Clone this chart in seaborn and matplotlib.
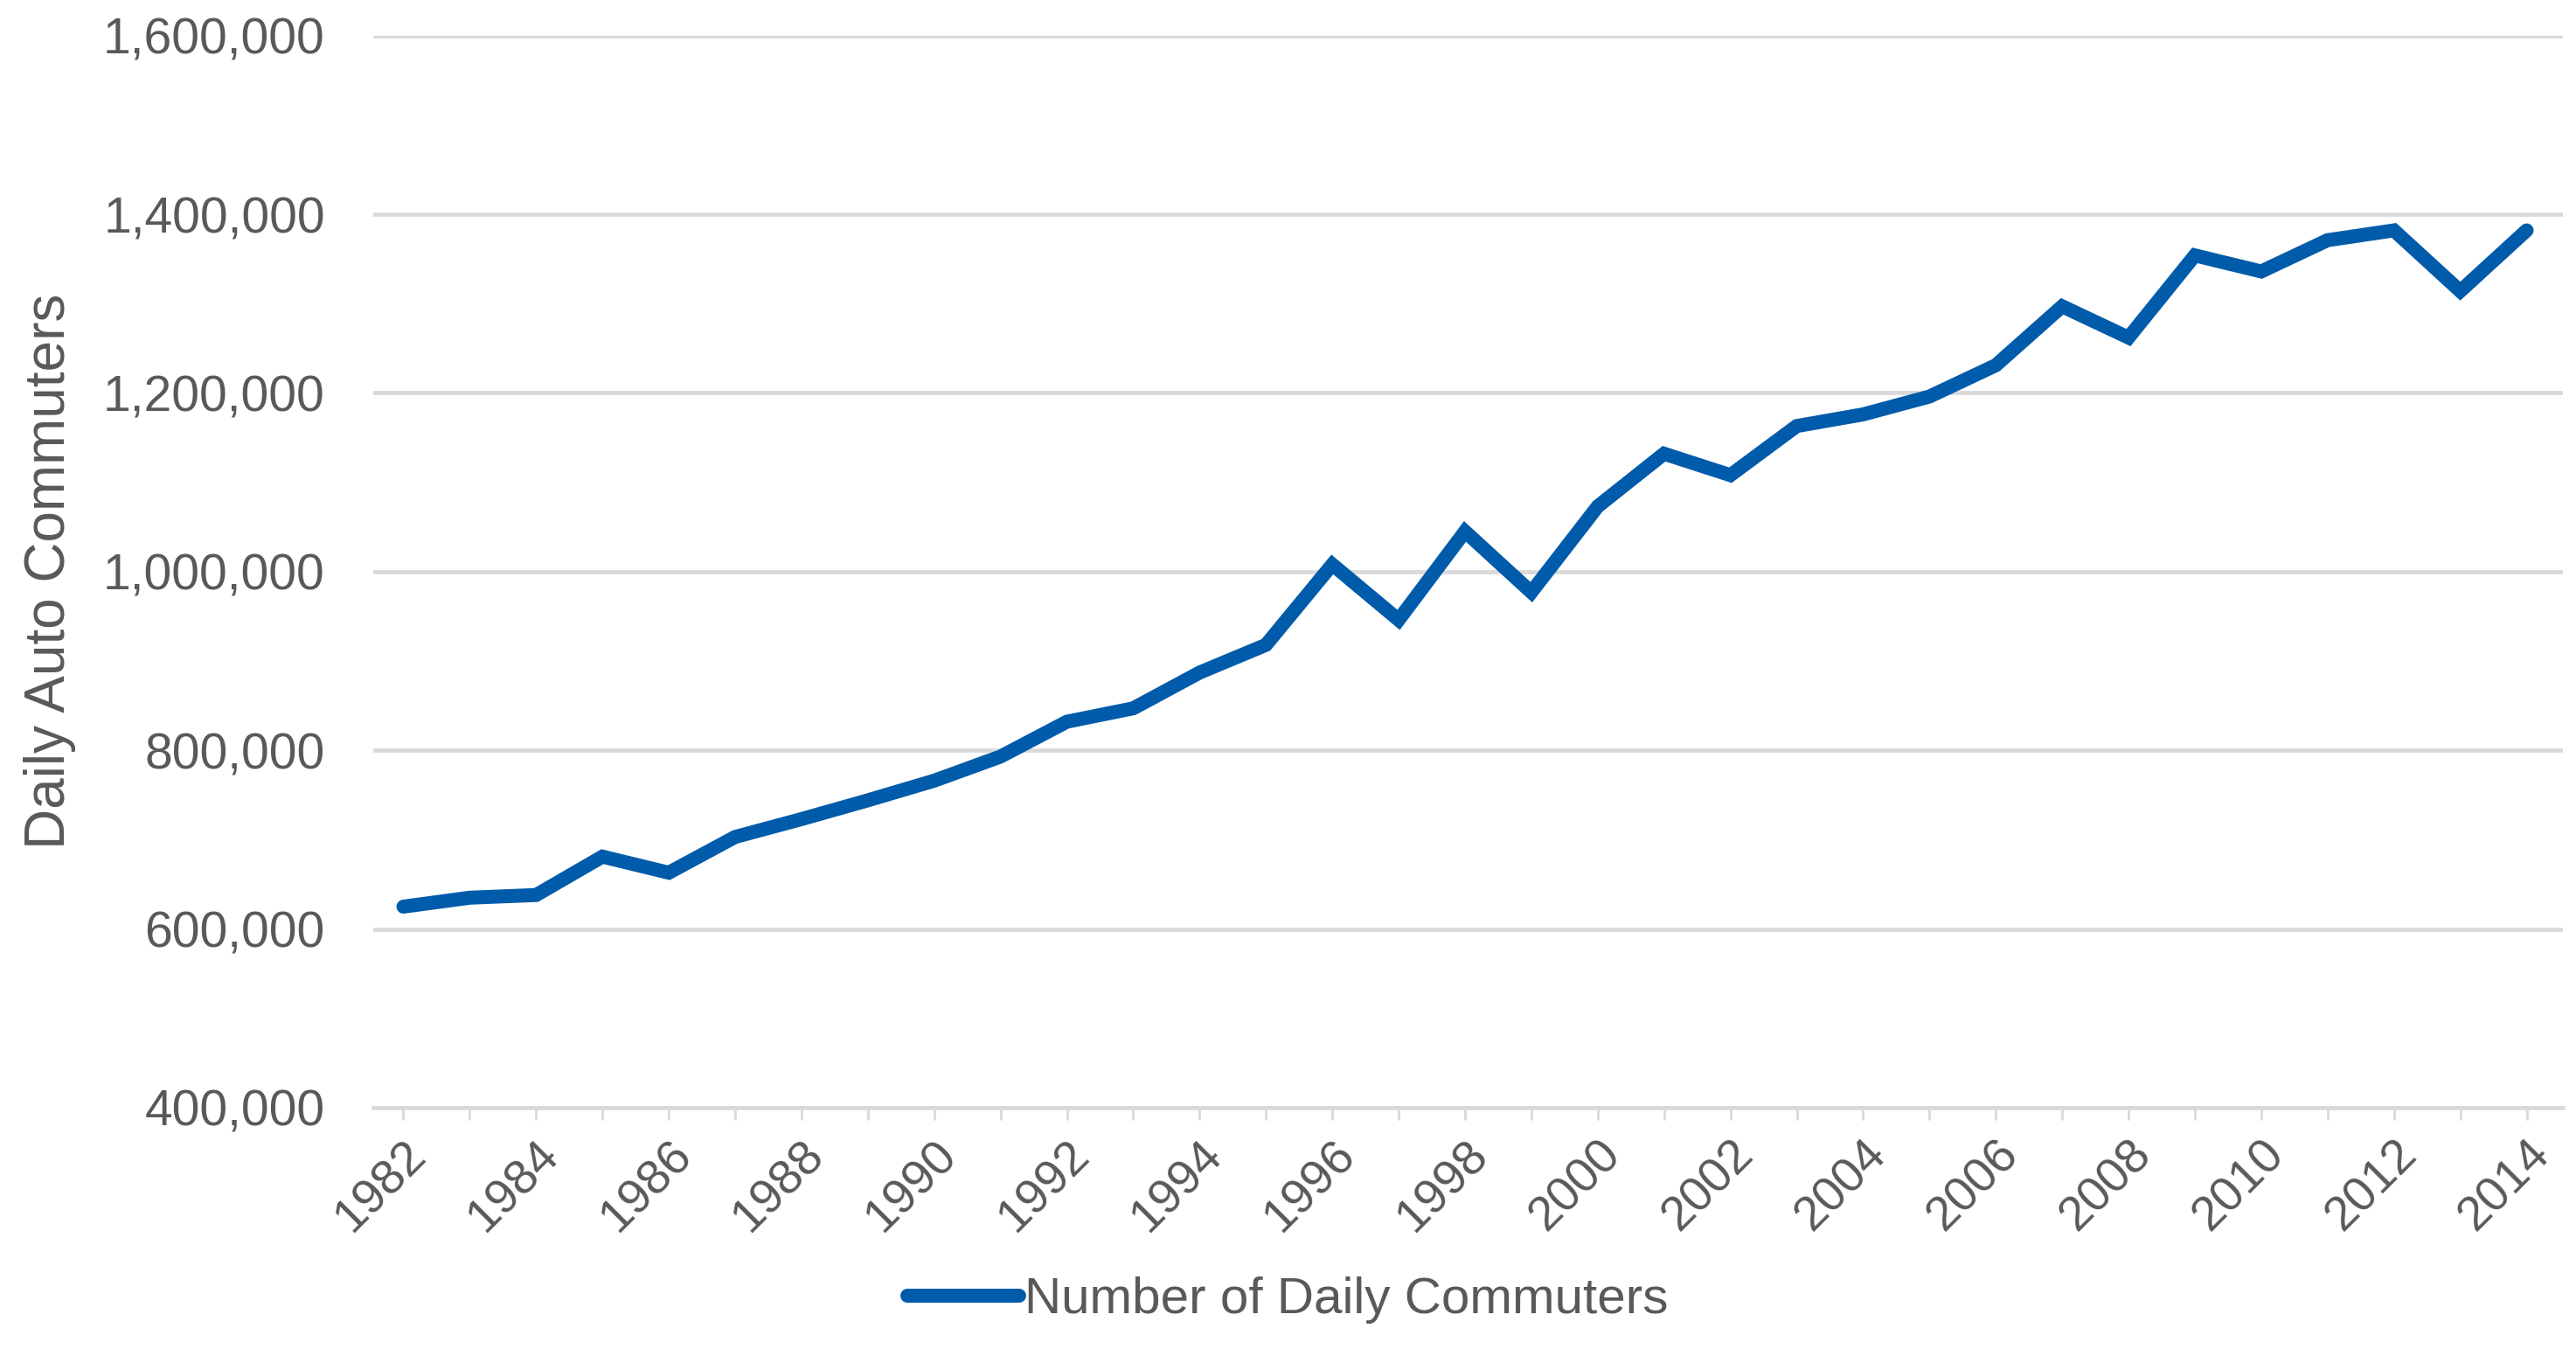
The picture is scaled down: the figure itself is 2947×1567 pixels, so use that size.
import matplotlib
matplotlib.use("Agg")
import matplotlib.pyplot as plt
import seaborn as sns
import pandas as pd
from matplotlib.ticker import FuncFormatter, MultipleLocator

# Daily auto commuters by year
years = list(range(1982, 2015))
commuters = [
    625000, 635000, 638000, 681000, 663000, 703000, 723000, 744000, 766000,
    793000, 832000, 847000, 887000, 918000, 1008000, 946000, 1045000, 977000,
    1073000, 1132000, 1108000, 1163000, 1176000, 1196000, 1231000, 1297000,
    1262000, 1354000, 1336000, 1371000, 1382000, 1314000, 1382000,
]
series_name = "Number of Daily Commuters"
y_label = "Daily Auto Commuters"

df = pd.DataFrame({"Year": years, "Commuters": commuters, "Series": series_name})

sns.set_theme(style="white")
plt.rcParams["font.family"] = ["Liberation Sans", "DejaVu Sans"]

text_color = "#595959"
grid_color = "#D9D9D9"
line_color = "#005BAA"
line_width = 11.5

fig = plt.figure(figsize=(29.47, 15.67), dpi=100)
ax = fig.add_axes([0.145, 0.1915, 0.85, 0.7825])

sns.lineplot(data=df, x="Year", y="Commuters", hue="Series",
             palette=[line_color], linewidth=line_width, ax=ax, legend=True,
             solid_capstyle="round", solid_joinstyle="miter")

ax.set_xlim(1981.55, 2014.55)
ax.set_ylim(400000, 1600000)
ax.yaxis.set_major_locator(MultipleLocator(200000))
ax.yaxis.set_major_formatter(FuncFormatter(lambda v, p: f"{int(v):,}"))

ax.set_xticks(list(range(1982, 2015, 2)))
ax.set_xticks(years, minor=True)
ax.set_xticklabels([str(y) for y in range(1982, 2015, 2)], rotation=45,
                   ha="right", va="top", rotation_mode="anchor")

ax.grid(axis="y", color=grid_color, linewidth=3.4)
ax.set_axisbelow(True)
for side in ["top", "right", "left"]:
    ax.spines[side].set_visible(False)
ax.spines["bottom"].set_color(grid_color)
ax.spines["bottom"].set_linewidth(3.4)

ax.tick_params(axis="y", length=0, labelsize=41, labelcolor=text_color, pad=40)
ax.tick_params(axis="x", which="both", direction="out", length=10, width=2,
               color=grid_color, bottom=True, labelsize=40,
               labelcolor=text_color, pad=10)

ax.set_xlabel("")
ax.set_ylabel(y_label, fontsize=46, color=text_color, labelpad=22)

handles, labels = ax.get_legend_handles_labels()
ax.get_legend().remove()
leg = fig.legend(handles, labels, loc="lower center", bbox_to_anchor=(0.5, 0.0),
                 frameon=False, fontsize=42, handlelength=2.2, handletextpad=0.1,
                 labelcolor=text_color)
for h in leg.get_lines():
    h.set_linewidth(line_width)
    h.set_solid_capstyle("round")

fig.savefig("out.png", dpi=100, facecolor="white")
